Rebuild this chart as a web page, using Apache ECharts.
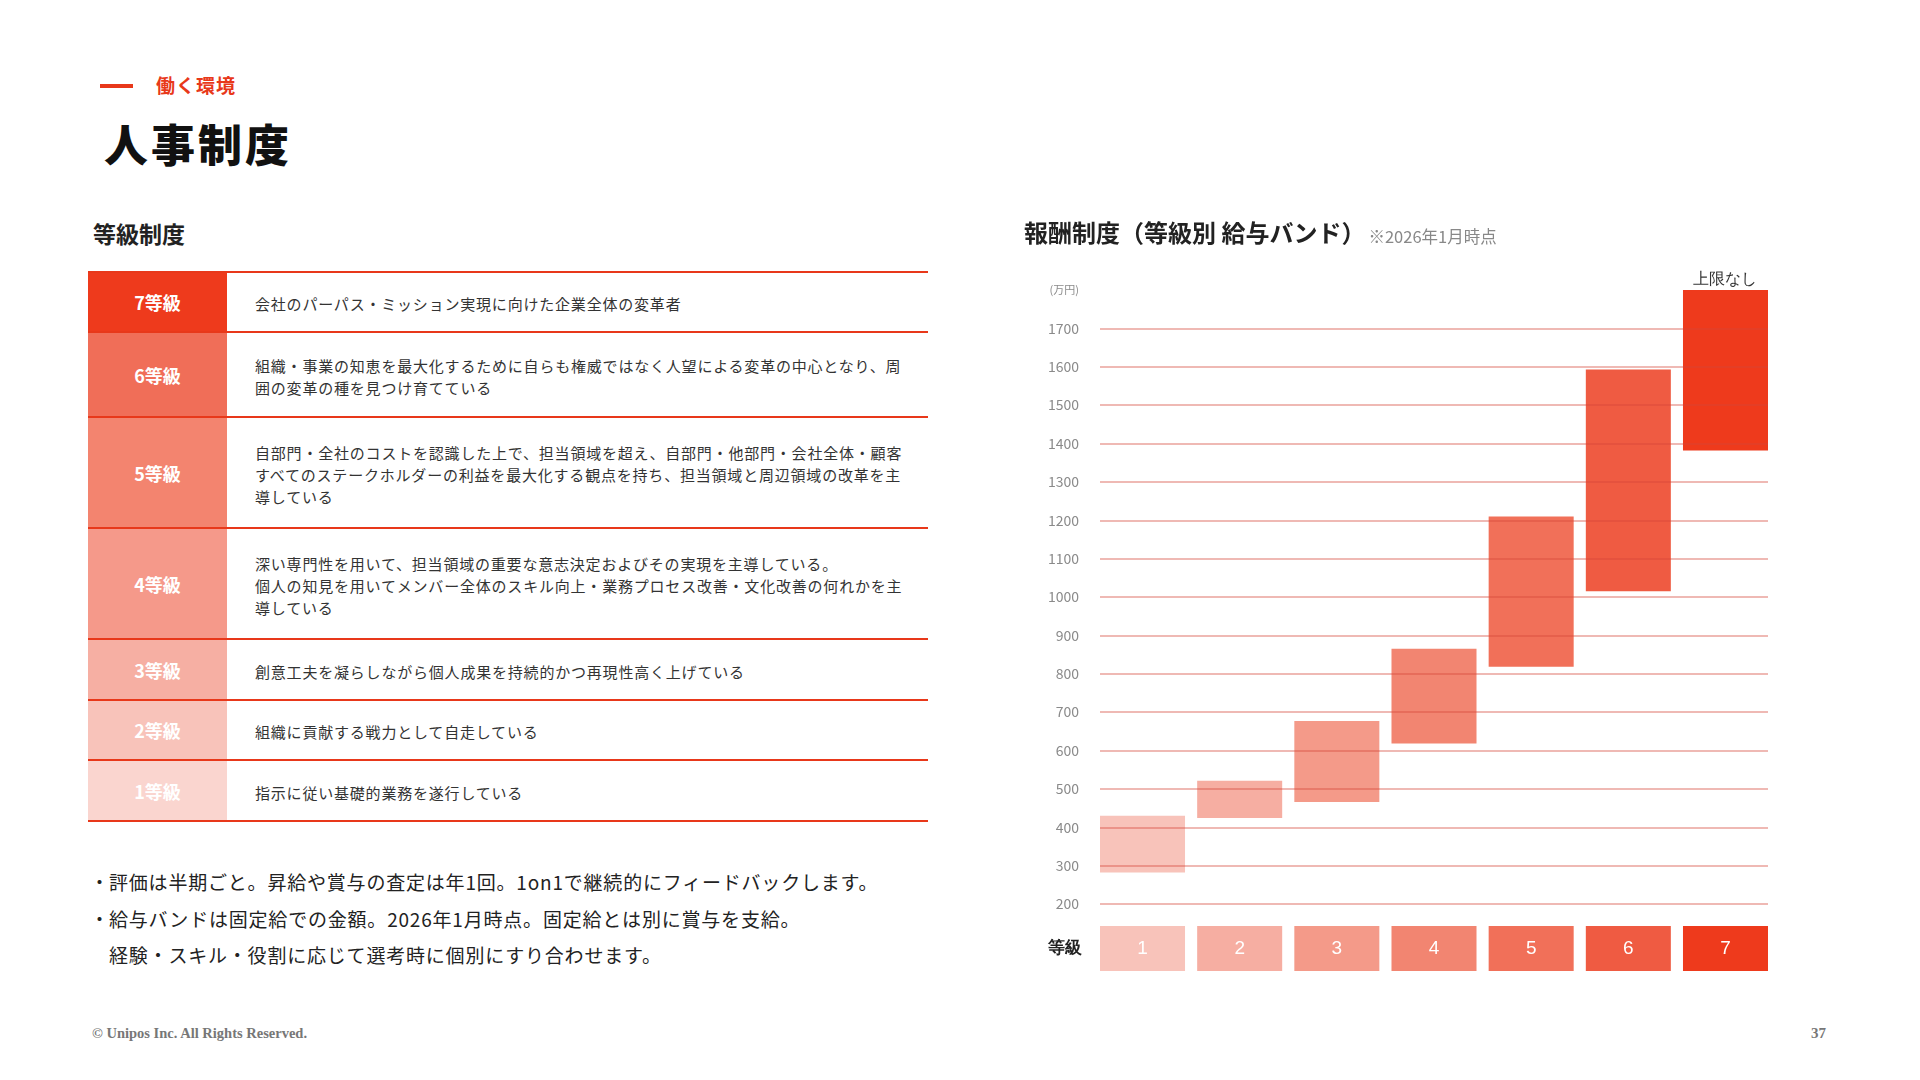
<!DOCTYPE html>
<html>
  <head>
    <meta charset="utf-8" />
    <script src="https://cdn.jsdelivr.net/npm/echarts@6.0.0/dist/echarts.min.js"></script>
    <style>
      body { margin: 0; background: #fff; font-family: "Noto Sans CJK JP", sans-serif; color: #222; }
      #page { position: relative; width: 1920px; height: 1080px; overflow: hidden; }
      .abs { position: absolute; white-space: nowrap; }
      #dash { left: 100px; top: 84px; width: 33px; height: 4px; background: #E8381A; }
      #kicker { left: 156px; top: 72px; font-size: 19px; font-weight: bold; letter-spacing: 1px; color: #E8381A; line-height: 26px; }
      #headline { left: 104px; top: 114px; font-size: 44px; font-weight: 900; letter-spacing: 3px; color: #111; line-height: 58px; }
      #subhead { left: 93px; top: 218px; font-size: 23px; font-weight: bold; line-height: 30px; }
      #grades { position: absolute; left: 88px; top: 271px; width: 840px; border-collapse: collapse; }
      #grades td { border-top: 2px solid #E8381A; border-bottom: 2px solid #E8381A; padding: 0; }
      #grades td.lbl { width: 139px; text-align: center; color: #fff; font-size: 18px; font-weight: bold; }
      #grades td.txt { padding: 4px 0 0 28px; font-size: 15px; line-height: 22px; letter-spacing: 0.8px; color: #333; white-space: nowrap; }
      #notes { left: 90px; top: 864px; font-size: 19px; line-height: 36.5px; letter-spacing: 0.8px; color: #222; }
      #notes span { display: inline-block; width: 19px; }
      #copy { left: 92px; top: 1025px; font-family: "Liberation Serif", serif; font-size: 14.5px; font-weight: bold; color: #777; }
      #pageno { left: 1811px; top: 1025px; font-family: "Liberation Serif", serif; font-size: 15px; font-weight: bold; color: #777; }
      #main { position: absolute; left: 1000px; top: 200px; width: 820px; height: 820px; }
    </style>
  </head>
  <body>
    <div id="page">
      <div id="dash" class="abs"></div>
      <div id="kicker" class="abs">働く環境</div>
      <div id="headline" class="abs">人事制度</div>
      <div id="subhead" class="abs">等級制度</div>
      <table id="grades"></table>
      <div id="notes" class="abs">
        <span>・</span>評価は半期ごと。昇給や賞与の査定は年1回。1on1で継続的にフィードバックします。<br />
        <span>・</span>給与バンドは固定給での金額。2026年1月時点。固定給とは別に賞与を支給。<br />
        <span></span>経験・スキル・役割に応じて選考時に個別にすり合わせます。
      </div>
      <div id="copy" class="abs">© Unipos Inc. All Rights Reserved.</div>
      <div id="pageno" class="abs">37</div>
      <div id="main"></div>
    </div>

    <script type="text/javascript">
      // grade table (top = 7等級)
      var tableLabels = ["7等級", "6等級", "5等級", "4等級", "3等級", "2等級", "1等級"];
      var tableTexts = [
        "会社のパーパス・ミッション実現に向けた企業全体の変革者",
        "組織・事業の知恵を最大化するために自らも権威ではなく人望による変革の中心となり、周<br>囲の変革の種を見つけ育てている",
        "自部門・全社のコストを認識した上で、担当領域を超え、自部門・他部門・会社全体・顧客<br>すべてのステークホルダーの利益を最大化する観点を持ち、担当領域と周辺領域の改革を主<br>導している",
        "深い専門性を用いて、担当領域の重要な意志決定およびその実現を主導している。<br>個人の知見を用いてメンバー全体のスキル向上・業務プロセス改善・文化改善の何れかを主<br>導している",
        "創意工夫を凝らしながら個人成果を持続的かつ再現性高く上げている",
        "組織に貢献する戦力として自走している",
        "指示に従い基礎的業務を遂行している"
      ];
      var tableColors = ["#EE3A1C", "#F06E58", "#F3846F", "#F5998A", "#F6AFA3", "#F8C3BA", "#FAD5CF"];
      var rowHeights = [60, 85, 111, 111, 61, 60, 61];

      // salary bands (万円) per grade 1..7
      var grades = ["1", "2", "3", "4", "5", "6", "7"];
      var bandLow = [282, 424, 466, 618, 818, 1015, 1382];
      var bandHigh = [430, 521, 677, 865, 1210, 1593, 1800];
      var gradeColors = ["#F8C3BA", "#F6AEA2", "#F49A89", "#F28571", "#F17059", "#EF5B42", "#EE3A1C"];
      var openEndNote = "上限なし";

      var html = "";
      tableLabels.forEach(function (lbl, i) {
        html += '<tr style="height:' + rowHeights[i] + 'px"><td class="lbl" style="background:' + tableColors[i] + '">' +
          lbl + '</td><td class="txt">' + tableTexts[i] + "</td></tr>";
      });
      document.getElementById("grades").innerHTML = html;

      var myChart = echarts.init(document.getElementById("main"));

      // bars are 0.875 of the grade pitch; x range set so the outer bars touch the grid edges
      var barFrac = 0.875;
      var xMin = -barFrac / 2, xMax = grades.length - 1 + barFrac / 2;

      function box(api, i, yLo, yHi) {
        var lo = api.coord([i, yLo]);
        var hi = api.coord([i, yHi]);
        var w = api.size([barFrac, 0])[0];
        return { x: lo[0] - w / 2, y: hi[1], width: w, height: lo[1] - hi[1] };
      }

      var option = {
        animation: false,
        textStyle: { fontFamily: "Noto Sans CJK JP" },
        title: {
          left: 24, top: 18, padding: 0,
          text: "{a|報酬制度（等級別 給与バンド）}{b|※2026年1月時点}",
          textStyle: {
            rich: {
              a: { fontSize: 24, fontWeight: "bold", color: "#222", lineHeight: 30 },
              b: { fontSize: 16.5, fontWeight: "normal", color: "#888", padding: [8, 0, 0, 3] }
            }
          }
        },
        graphic: [
          { type: "text", left: 48, top: 740, style: { text: "等級", fontSize: 17, fontWeight: "bold", fill: "#222" } }
        ],
        grid: [
          { left: 100, right: 52, top: 90, bottom: 116 },
          { left: 100, right: 52, top: 726, height: 45 }
        ],
        xAxis: [
          { type: "value", gridIndex: 0, min: xMin, max: xMax, show: false },
          { type: "value", gridIndex: 1, min: xMin, max: xMax, show: false }
        ],
        yAxis: [
          {
            type: "value",
            gridIndex: 0,
            min: 200,
            max: 1800,
            interval: 100,
            z: 5,
            axisLine: { show: false },
            axisTick: { show: false },
            axisLabel: {
              margin: 21,
              color: "#8a8a8a",
              fontSize: 14,
              formatter: function (v) { return v === 1800 ? "{u|(万円)}" : v; },
              rich: { u: { fontSize: 11, color: "#8a8a8a" } }
            },
            splitLine: {
              showMaxLine: false,
              lineStyle: { color: "rgba(214,70,55,0.5)", width: 1.5 }
            }
          },
          { type: "value", gridIndex: 1, min: 0, max: 1, show: false }
        ],
        series: [
          {
            type: "custom",
            xAxisIndex: 0,
            yAxisIndex: 0,
            z: 2,
            encode: { x: 0, y: [1, 2] },
            data: grades.map(function (g, i) { return [i, bandLow[i], bandHigh[i]]; }),
            renderItem: function (params, api) {
              var i = api.value(0);
              var el = {
                type: "rect",
                shape: box(api, i, api.value(1), api.value(2)),
                style: { fill: gradeColors[i] }
              };
              if (i === grades.length - 1) {
                el.textContent = { style: { text: openEndNote, fontSize: 15.5, fill: "#333" } };
                el.textConfig = { position: "top", distance: 2 };
              }
              return el;
            }
          },
          {
            // grade number boxes under the chart
            type: "custom",
            xAxisIndex: 1,
            yAxisIndex: 1,
            encode: { x: 0, y: [1, 2] },
            data: grades.map(function (g, i) { return [i, 0, 1]; }),
            renderItem: function (params, api) {
              var i = api.value(0);
              return {
                type: "rect",
                shape: box(api, i, 0, 1),
                style: { fill: gradeColors[i] },
                textContent: { style: { text: grades[i], fontSize: 19, fill: "#fff" } },
                textConfig: { position: "inside" }
              };
            }
          }
        ]
      };

      myChart.setOption(option);
    </script>
  </body>
</html>
